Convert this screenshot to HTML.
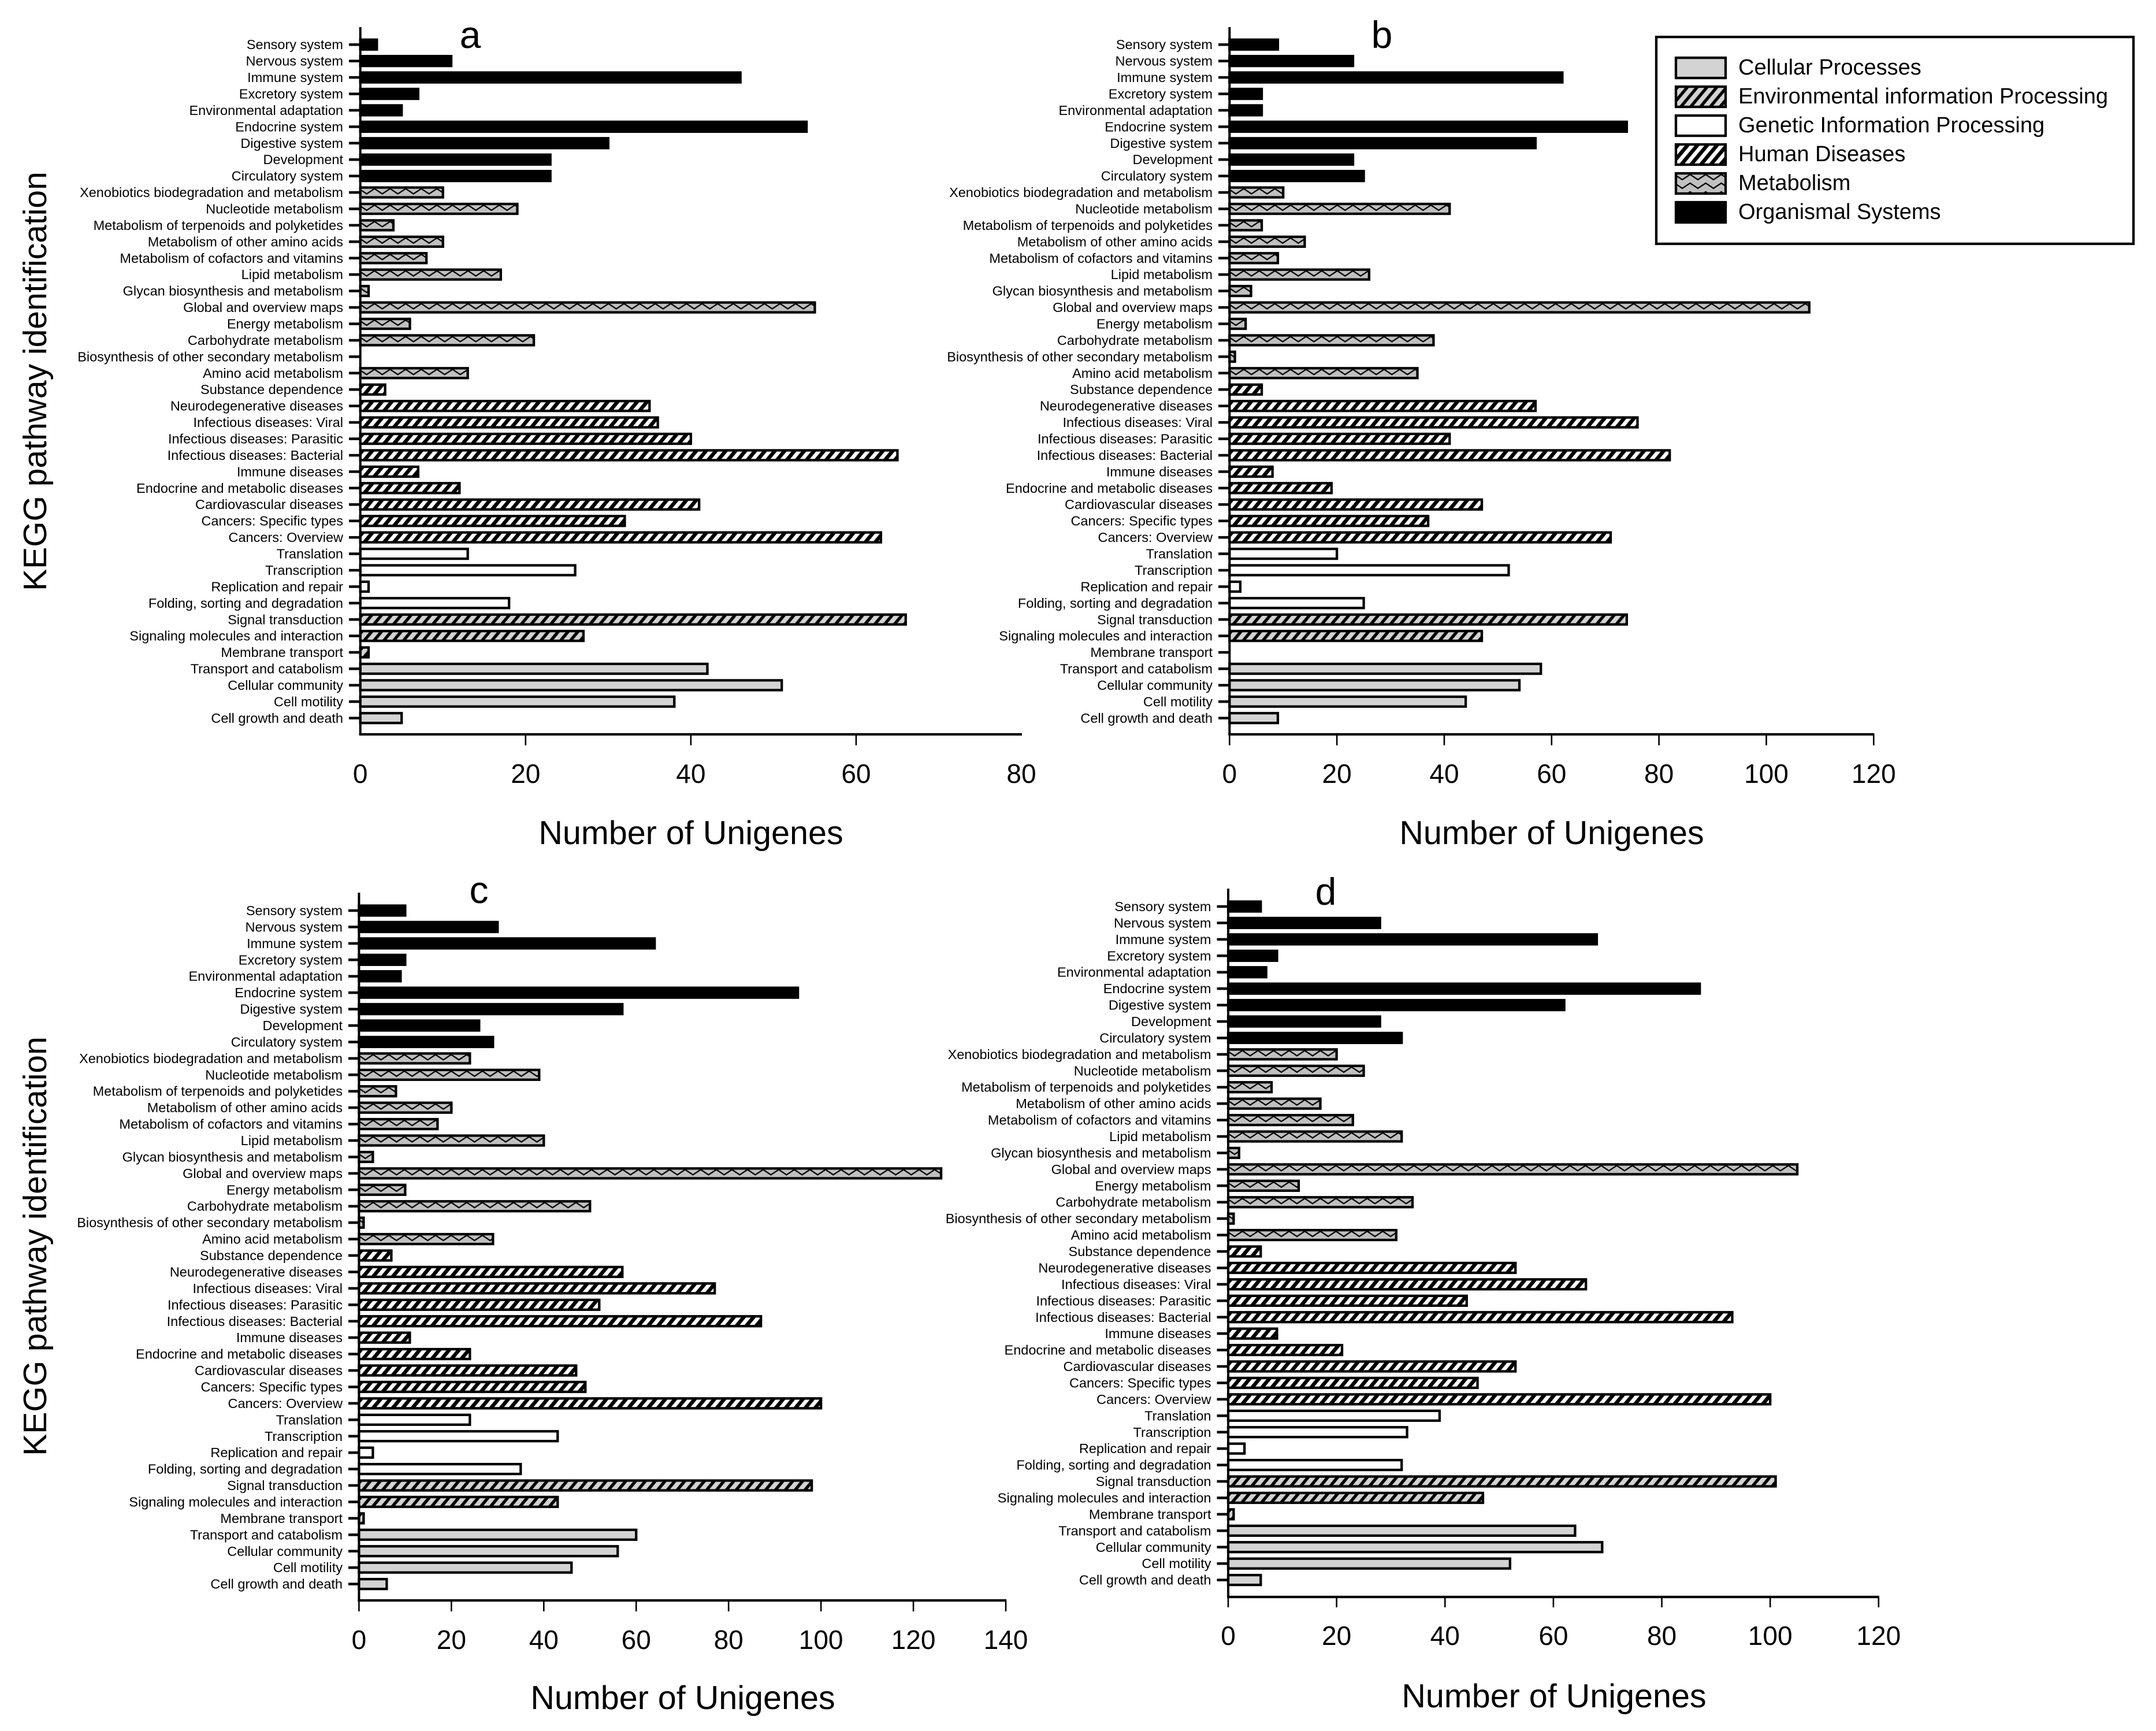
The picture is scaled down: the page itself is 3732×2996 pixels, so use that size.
<!DOCTYPE html>
<html lang="en">
<head>
<meta charset="utf-8">
<title>KEGG pathway identification of unigenes</title>
<style>
html,body{margin:0;padding:0;background:#fff;}
svg{display:block;}
text{font-family:"Liberation Sans",Arial,sans-serif;fill:#000;}
</style>
</head>
<body>
<svg id="figure" xmlns="http://www.w3.org/2000/svg" width="3732" height="2996" viewBox="0 0 3732 2996">
  <defs>
    <pattern id="pat-env" patternUnits="userSpaceOnUse" width="17" height="20.4">
      <rect width="17" height="20.4" fill="#d3d3d3"/>
      <polygon points="0,20.4 7,20.4 24,0 17,0" fill="#000"/>
      <polygon points="-17,20.4 -10,20.4 7,0 0,0" fill="#000"/>
    </pattern>
    <pattern id="pat-human" patternUnits="userSpaceOnUse" width="17" height="20.4">
      <rect width="17" height="20.4" fill="#fff"/>
      <polygon points="0,20.4 8.5,20.4 25.5,0 17,0" fill="#000"/>
      <polygon points="-17,20.4 -8.5,20.4 8.5,0 0,0" fill="#000"/>
    </pattern>
    <pattern id="pat-metab" patternUnits="userSpaceOnUse" width="27" height="15">
      <rect width="27" height="15" fill="#c0c0c0"/>
      <polyline points="-16,11 -2.5,2 11,11 24.5,2 38,11" fill="none" stroke="#000" stroke-width="2.3"/>
    </pattern>
  </defs>
  <rect width="3732" height="2996" fill="#fff"/>

  <g id="legend">
    <rect x="2867" y="64" width="826" height="358" fill="#fff" stroke="#000" stroke-width="4.3"/>
    <g>
      <rect x="2901" y="100" width="86" height="35" fill="#d3d3d3" stroke="#000" stroke-width="4.3"/>
      <text x="3009" y="129" font-size="38">Cellular Processes</text>
    </g>
    <g>
      <g transform="translate(2901,150)"><rect width="86" height="35" fill="url(#pat-env)" stroke="#000" stroke-width="4.3"/></g>
      <text x="3009" y="179" font-size="38">Environmental information Processing</text>
    </g>
    <g>
      <rect x="2901" y="200" width="86" height="35" fill="#fff" stroke="#000" stroke-width="4.3"/>
      <text x="3009" y="229" font-size="38">Genetic Information Processing</text>
    </g>
    <g>
      <g transform="translate(2901,250)"><rect width="86" height="35" fill="url(#pat-human)" stroke="#000" stroke-width="4.3"/></g>
      <text x="3009" y="279" font-size="38">Human Diseases</text>
    </g>
    <g>
      <g transform="translate(2901,300)"><rect width="86" height="35" fill="url(#pat-metab)" stroke="#000" stroke-width="4.3"/></g>
      <text x="3009" y="329" font-size="38">Metabolism</text>
    </g>
    <g>
      <rect x="2901" y="350" width="86" height="35" fill="#000" stroke="#000" stroke-width="4.3"/>
      <text x="3009" y="379" font-size="38">Organismal Systems</text>
    </g>
  </g>
</svg>

<script>
var categories = ["Sensory system","Nervous system","Immune system","Excretory system","Environmental adaptation","Endocrine system","Digestive system","Development","Circulatory system","Xenobiotics biodegradation and metabolism","Nucleotide metabolism","Metabolism of terpenoids and polyketides","Metabolism of other amino acids","Metabolism of cofactors and vitamins","Lipid metabolism","Glycan biosynthesis and metabolism","Global and overview maps","Energy metabolism","Carbohydrate metabolism","Biosynthesis of other secondary metabolism","Amino acid metabolism","Substance dependence","Neurodegenerative diseases","Infectious diseases: Viral","Infectious diseases: Parasitic","Infectious diseases: Bacterial","Immune diseases","Endocrine and metabolic diseases","Cardiovascular diseases","Cancers: Specific types","Cancers: Overview","Translation","Transcription","Replication and repair","Folding, sorting and degradation","Signal transduction","Signaling molecules and interaction","Membrane transport","Transport and catabolism","Cellular community","Cell motility","Cell growth and death"];
var categoryGroups = ["org","org","org","org","org","org","org","org","org","met","met","met","met","met","met","met","met","met","met","met","met","hum","hum","hum","hum","hum","hum","hum","hum","hum","hum","gen","gen","gen","gen","env","env","env","cel","cel","cel","cel"];
var valuesA = [2,11,46,7,5,54,30,23,23,10,19,4,10,8,17,1,55,6,21,0,13,3,35,36,40,65,7,12,41,32,63,13,26,1,18,66,27,1,42,51,38,5];
var valuesB = [9,23,62,6,6,74,57,23,25,10,41,6,14,9,26,4,108,3,38,1,35,6,57,76,41,82,8,19,47,37,71,20,52,2,25,74,47,0,58,54,44,9];
var valuesC = [10,30,64,10,9,95,57,26,29,24,39,8,20,17,40,3,126,10,50,1,29,7,57,77,52,87,11,24,47,49,100,24,43,3,35,98,43,1,60,56,46,6];
var valuesD = [6,28,68,9,7,87,62,28,32,20,25,8,17,23,32,2,105,13,34,1,31,6,53,66,44,93,9,21,53,46,100,39,33,3,32,101,47,1,64,69,52,6];
var tickLabelsA = [0,20,40,60,80];
var tickLabelsB = [0,20,40,60,80,100,120];
var tickLabelsC = [0,20,40,60,80,100,120,140];
var tickLabelsD = [0,20,40,60,80,100,120];
var xAxisTitle = "Number of Unigenes";
var yAxisTitle = "KEGG pathway identification";

var NS = "http://www.w3.org/2000/svg";
var figure = document.getElementById("figure");
var legendNode = document.getElementById("legend");
var ROW_STEP = 28.43;

var panels = [
  {id:"a",values:valuesA,ticks:tickLabelsA,x0:623.7,x1:1768,top:47,row0:77.2,base:1271,tickEnd:1290,tickText:1355,labelRight:594,endTicks:false,
   letterX:814,letterY:83,titleX:1196,titleY:1461,yTitleY:660},
  {id:"b",values:valuesB,ticks:tickLabelsB,x0:2128.3,x1:3243.3,top:47,row0:77.2,base:1271,tickEnd:1290,tickText:1355,labelRight:2099,endTicks:true,
   letterX:2392,letterY:83,titleX:2686,titleY:1461,yTitleY:null},
  {id:"c",values:valuesC,ticks:tickLabelsC,x0:621.4,x1:1741,top:1545,row0:1576,base:2770,tickEnd:2789,tickText:2854,labelRight:593,endTicks:true,
   letterX:829,letterY:1563,titleX:1182,titleY:2958,yTitleY:2157},
  {id:"d",values:valuesD,ticks:tickLabelsD,x0:2126,x1:3251.8,top:1538,row0:1569,base:2764,tickEnd:2782,tickText:2847,labelRight:2096.5,endTicks:true,
   letterX:2295,letterY:1566,titleX:2690,titleY:2955,yTitleY:null}
];

var groupFill = {cel:"#d3d3d3",env:"url(#pat-env)",gen:"#ffffff",hum:"url(#pat-human)",met:"url(#pat-metab)",org:"#000000"};

function svgEl(tag, attrs, parent){
  var el = document.createElementNS(NS, tag);
  for (var k in attrs) { el.setAttribute(k, attrs[k]); }
  parent.appendChild(el);
  return el;
}
function slug(s){ return s.toLowerCase().replace(/[^a-z0-9]+/g,"-").replace(/^-|-$/g,""); }

function drawPanel(p){
  var maxV = p.ticks[p.ticks.length-1];
  function xScale(v){ return p.x0 + (p.x1 - p.x0) * v / maxV; }
  function yRow(i){ return p.row0 + ROW_STEP * i; }

  var g = svgEl("g", {}, figure);
  
  

  var letter = svgEl("text", {x:p.letterX,y:p.letterY,"font-size":66,"text-anchor":"middle"}, g);
  
  
  letter.textContent = p.id;

  categories.forEach(function(cat, i){
    var y = yRow(i);
    var v = p.values[i];
    if (v > 0) {
      var barGroup = svgEl("g", {transform:"translate(" + p.x0 + "," + (y - 8.5) + ")"}, g);
      var bar = svgEl("rect", {x:0,y:0,width:xScale(v) - p.x0,height:17,fill:groupFill[categoryGroups[i]],stroke:"#000","stroke-width":4.3,"stroke-linejoin":"miter"}, barGroup);
      
      
    }
    var tick = svgEl("line", {x1:p.labelRight + 10,x2:p.x0,y1:y,y2:y,stroke:"#000","stroke-width":4.5}, g);
    
    
    var label = svgEl("text", {x:p.labelRight,y:y + 8,"font-size":23.5,"text-anchor":"end"}, g);
    
    
    label.textContent = cat;
  });

  var yAxis = svgEl("line", {x1:p.x0,x2:p.x0,y1:p.top,y2:p.base + 2,stroke:"#000","stroke-width":4}, g);
  
  
  var xAxis = svgEl("line", {x1:p.x0 - 2,x2:p.x1 + 1,y1:p.base,y2:p.base,stroke:"#000","stroke-width":4.3}, g);
  
  

  p.ticks.forEach(function(t, j){
    var tx = xScale(t);
    if (p.endTicks || (j > 0 && j < p.ticks.length - 1)) {
      var xt = svgEl("line", {x1:tx,x2:tx,y1:p.base,y2:p.tickEnd,stroke:"#000","stroke-width":2.6}, g);
      
      
    }
    var xl = svgEl("text", {x:tx,y:p.tickText,"font-size":46,"text-anchor":"middle"}, g);
    
    
    xl.textContent = String(t);
  });

  var title = svgEl("text", {x:p.titleX,y:p.titleY,"font-size":57.5,"text-anchor":"middle"}, g);
  
  
  title.textContent = xAxisTitle;

  if (p.yTitleY !== null) {
    var yt = svgEl("text", {transform:"translate(80," + p.yTitleY + ") rotate(-90)","font-size":57,"text-anchor":"middle"}, g);
    
    
    yt.textContent = yAxisTitle;
  }
}

panels.forEach(drawPanel);
figure.appendChild(legendNode);
</script>
</body>
</html>
